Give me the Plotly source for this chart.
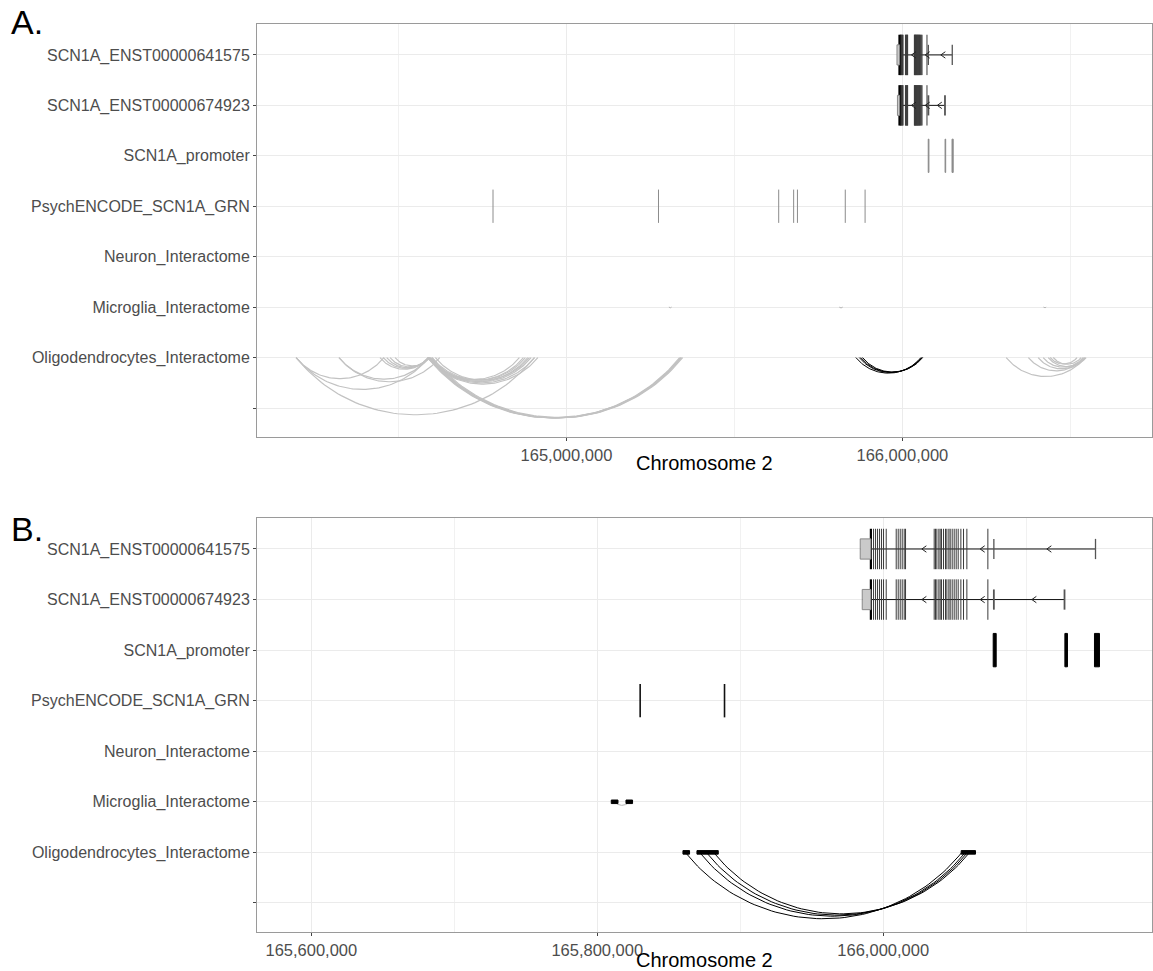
import numpy as np
import plotly.graph_objects as go

# ---------------- data ----------------
track_labels = ["SCN1A_ENST00000641575", "SCN1A_ENST00000674923", "SCN1A_promoter",
                "PsychENCODE_SCN1A_GRN", "Neuron_Interactome", "Microglia_Interactome",
                "Oligodendrocytes_Interactome", ""]
track_levels = [7, 6, 5, 4, 3, 2, 1, 0]

# SCN1A exons (shared by both transcripts)
exon_first = [165991377]
exon_tall = [165993238, 165994636, 165996035, 165997434, 165998832, 166000231, 166002098,
             166009091, 166010489, 166011888, 166013287, 166014685, 166015618,
             166035664, 166036594, 166037531, 166038930, 166039860, 166040790, 166042189,
             166043587, 166044524, 166045923, 166046853, 166048252, 166049650, 166051049,
             166052447, 166054314, 166056175, 166058510, 166073194]
exon_short = [166077390]
tx_names = ["SCN1A_ENST00000641575", "SCN1A_ENST00000674923"]
tx_utr_start = [165983916, 165985315]
tx_utr_end = [165991377, 165991377]
tx_end = [166148487, 166126805]
tx_arrows = [[166027041, 166067832, 166114454], [166027041, 166067832, 166103965]]

promoter_start = [166076923, 166127063, 166147762]
promoter_end = [166079021, 166128881, 166151258]

grn_A = [164781474, 165274048, 165631824, 165676361, 165687643, 165830000, 165889000]
grn_B = [165830000, 165889000]

micro_start = [165305000, 165812100, 166420000]
micro_end = [165313000, 165822380, 166428000]
micro_anchor_start = [165809790, 165820070]
micro_anchor_end = [165814476, 165824685]

oligo_start = [164195374, 164195374, 164195374, 164323045, 164323045,
               164445000, 164455000, 164465000, 164475000, 164490000,
               164590000, 164592000, 164588000, 164595000, 164590000, 164586000, 164600000, 164610000,
               164590000, 164593000, 164587000, 164596000, 164600000,
               166309000, 166375000, 166404000, 166419000, 166434000, 166449000, 166440000,
               165861538, 165871538, 165876224, 165881328]
oligo_end = [164456655, 164590264, 164904989, 164590264, 164622924,
             164590000, 164588000, 164592000, 164590000, 164594000,
             164860000, 164872000, 164885000, 164895000, 164905000, 164915000, 164878000, 164890000,
             165340000, 165343000, 165337000, 165346000, 165341000,
             166544000, 166540000, 166544000, 166538000, 166547000, 166532000, 166520000,
             166055000, 166057500, 166059000, 166060500]
oligo_scn1a = [False] * 30 + [True] * 4
oligo_anchor_start = [165859930, 165869720, 166054545]
oligo_anchor_end = [165864546, 165884615, 166064545]

xA_range = [164079000, 166743000]
xB_range = [165562000, 166188000]
xA_ticks = [165000000, 166000000]
xA_minor = [164500000, 165500000, 166500000]
xB_ticks = [165600000, 165800000, 166000000]
xB_minor = [165700000, 165900000, 166100000]
y_range = [-0.575, 7.613]

# ---------------- layout geometry ----------------
W, H = 1153, 971
ML, MR, MT, MB = 257, 1, 24, 39
plot_w = W - ML - MR
plot_h = H - MT - MB
A_top_px, A_bot_px = 24, 437
B_top_px, B_bot_px = 518, 932


def pfrac(py):
    return (H - MB - py) / plot_h


domA = [pfrac(A_bot_px), pfrac(A_top_px)]
domB = [pfrac(B_bot_px), pfrac(B_top_px)]

level = {n: l for n, l in zip(track_labels, track_levels)}
fig = go.Figure()


def vlines(xs, y, h):
    X, Y = [], []
    for x in xs:
        X += [x, x, None]
        Y += [y - h, y + h, None]
    return X, Y


def rects(starts, ends, y, h):
    X, Y = [], []
    for s, e in zip(starts, ends):
        X += [s, e, e, s, s, None]
        Y += [y - h, y - h, y + h, y + h, y - h, None]
    return X, Y


def arcs(starts, ends, y0, kx, ky, c=0.24, n=70):
    X, Y = [], []
    for x1, x2 in zip(starts, ends):
        L = (x2 - x1) * kx
        s = c * L
        R = (L * L / 4 + s * s) / (2 * s)
        tm = np.arcsin(min(1.0, L / (2 * R)))
        th = np.linspace(-tm, tm, n)
        xm = (x1 + x2) / 2
        X += list(xm + R * np.sin(th) / kx) + [None]
        Y += list(y0 + (R - s - R * np.cos(th)) / ky) + [None]
    return X, Y


def add(xs, ys, xa, ya, color, width, fill=None, fillcolor=None):
    fig.add_trace(go.Scatter(x=xs, y=ys, xaxis=xa, yaxis=ya, mode="lines",
                             line=dict(color=color, width=width), fill=fill,
                             fillcolor=fillcolor, hoverinfo="skip", showlegend=False))


def panel(xa, ya, xr, top_px, bot_px, grn, style, anchors):
    kx = plot_w / (xr[1] - xr[0])
    ky = (bot_px - top_px) / (y_range[1] - y_range[0])
    # transcripts
    for i, name in enumerate(tx_names):
        y = level[name]
        add([tx_utr_start[i], tx_end[i]], [y, y], xa, ya, "#111111", 1)
        X, Y = vlines(exon_tall, y, 0.4)
        add(X, Y, xa, ya, style["exon"], 1)
        X, Y = vlines(exon_first, y, 0.4)
        add(X, Y, xa, ya, "#000000", 2.2)
        X, Y = vlines(exon_short + [tx_end[i]], y, 0.2)
        add(X, Y, xa, ya, "#555555", 1.3 if i == 0 else 1.8)
        X, Y = rects([tx_utr_start[i]], [tx_utr_end[i]], y, 0.2)
        add(X, Y, xa, ya, "#888888", 1, fill="toself", fillcolor="#cacaca")
        X, Y = [], []
        for xarr in tx_arrows[i]:
            dx = 4.5 / kx
            dy = 3.2 / ky
            X += [xarr + dx, xarr, xarr + dx, None]
            Y += [y + dy, y, y - dy, None]
        add(X, Y, xa, ya, "#222222", 1)
    # promoter
    y = level["SCN1A_promoter"]
    X, Y = rects(promoter_start, promoter_end, y, 0.33)
    add(X, Y, xa, ya, style["prom"], 1, fill="toself", fillcolor=style["prom"])
    # GRN
    y = level["PsychENCODE_SCN1A_GRN"]
    X, Y = vlines(grn, y, 0.33)
    add(X, Y, xa, ya, style["grn"], style["grn_w"])
    # microglia
    y = level["Microglia_Interactome"]
    X, Y = arcs(micro_start, micro_end, y, kx, ky)
    add(X, Y, xa, ya, "#b5b5b5", 1)
    if anchors:
        X, Y = rects(micro_anchor_start, micro_anchor_end, y, 0.035)
        add(X, Y, xa, ya, "#000000", 1, fill="toself", fillcolor="#000000")
    # oligodendrocytes
    y = level["Oligodendrocytes_Interactome"]
    gs = [s for s, f in zip(oligo_start, oligo_scn1a) if not f]
    ge = [e for e, f in zip(oligo_end, oligo_scn1a) if not f]
    bs = [s for s, f in zip(oligo_start, oligo_scn1a) if f]
    be = [e for e, f in zip(oligo_end, oligo_scn1a) if f]
    X, Y = arcs(gs, ge, y, kx, ky)
    add(X, Y, xa, ya, "#c2c2c2", 1.2)
    X, Y = arcs(bs, be, y, kx, ky)
    add(X, Y, xa, ya, "#000000", 1)
    if anchors:
        X, Y = rects(oligo_anchor_start, oligo_anchor_end, y, 0.035)
        add(X, Y, xa, ya, "#000000", 1, fill="toself", fillcolor="#000000")


panel("x", "y", xA_range, A_top_px, A_bot_px, grn_A,
      dict(exon="#3c3c3c", prom="#8c8c8c", grn="#8c8c8c", grn_w=1), False)
panel("x2", "y2", xB_range, B_top_px, B_bot_px, grn_B,
      dict(exon="#3a3a3a", prom="#000000", grn="#111111", grn_w=1.6), True)

font = "Liberation Sans, Arial, sans-serif"


def fmt(v):
    return f"{v:,}"


axis_common = dict(showline=True, mirror=True, linecolor="#9a9a9a", linewidth=1,
                   ticks="outside", ticklen=3, tickcolor="#444444",
                   tickfont=dict(size=16, color="#4d4d4d", family=font),
                   showgrid=True, gridcolor="#ebebeb", gridwidth=1, zeroline=False,
                   fixedrange=True)

fig.update_layout(
    width=W, height=H, margin=dict(l=ML, r=MR, t=MT, b=MB, autoexpand=False),
    paper_bgcolor="white", plot_bgcolor="white", font=dict(family=font),
    xaxis=dict(axis_common, domain=[0, 1], range=xA_range, anchor="y",
               tickvals=xA_ticks, ticktext=[fmt(v) for v in xA_ticks],
               tickfont=dict(size=16.5, color="#4d4d4d", family=font),
               minor=dict(tickvals=xA_minor, showgrid=True, gridcolor="#f1f1f1",
                          gridwidth=0.7, ticks="")),
    yaxis=dict(axis_common, domain=domA, range=y_range, anchor="x",
               tickvals=track_levels, ticktext=track_labels),
    xaxis2=dict(axis_common, domain=[0, 1], range=xB_range, anchor="y2",
                tickvals=xB_ticks, ticktext=[fmt(v) for v in xB_ticks],
                tickfont=dict(size=16.5, color="#4d4d4d", family=font),
                minor=dict(tickvals=xB_minor, showgrid=True, gridcolor="#f1f1f1",
                           gridwidth=0.7, ticks="")),
    yaxis2=dict(axis_common, domain=domB, range=y_range, anchor="x2",
                tickvals=track_levels, ticktext=track_labels),
    annotations=[
        dict(text="Chromosome 2", xref="paper", yref="paper", x=0.5, y=pfrac(463),
             showarrow=False, font=dict(size=20, color="#000000", family=font),
             xanchor="center", yanchor="middle"),
        dict(text="Chromosome 2", xref="paper", yref="paper", x=0.5, y=pfrac(960),
             showarrow=False, font=dict(size=20, color="#000000", family=font),
             xanchor="center", yanchor="middle"),
        dict(text="A.", xref="paper", yref="paper", x=(9 - ML) / plot_w, y=pfrac(22),
             showarrow=False, font=dict(size=34, color="#000000", family=font),
             xanchor="left", yanchor="middle"),
        dict(text="B.", xref="paper", yref="paper", x=(9 - ML) / plot_w, y=pfrac(529),
             showarrow=False, font=dict(size=34, color="#000000", family=font),
             xanchor="left", yanchor="middle"),
    ],
)

fig.write_html("out.html", config={"displayModeBar": False},
               post_script="document.body.style.margin='0';")
